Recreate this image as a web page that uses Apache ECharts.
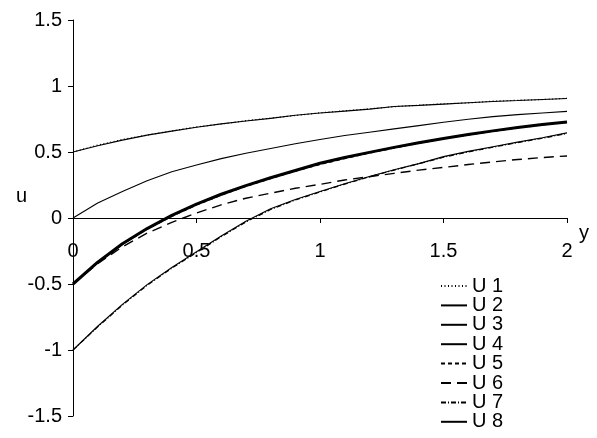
<!DOCTYPE html>
<html>
<head>
<meta charset="utf-8">
<script src="https://cdn.jsdelivr.net/npm/echarts@6/dist/echarts.min.js"></script>
<style>
  html, body { margin: 0; padding: 0; background: #fff; }
  #chart { width: 597px; height: 438px; }
</style>
</head>
<body>
<div id="chart"></div>
<script>
// Sample positions along y
const yPoints = [0, 0.1, 0.2, 0.3, 0.4, 0.5, 0.6, 0.7, 0.8, 0.9, 1.0,
                 1.1, 1.2, 1.3, 1.4, 1.5, 1.6, 1.7, 1.8, 1.9, 2.0];

// Profiles u(y) for each case
const U1 = [0.50, 0.552, 0.595, 0.628, 0.660, 0.690, 0.712, 0.737, 0.757, 0.776, 0.797,
            0.812, 0.827, 0.843, 0.855, 0.865, 0.872, 0.885, 0.892, 0.897, 0.907];
const U2 = [0.50, 0.548, 0.590, 0.628, 0.658, 0.688, 0.713, 0.735, 0.755, 0.778, 0.795,
            0.810, 0.825, 0.845, 0.853, 0.863, 0.873, 0.883, 0.890, 0.898, 0.905];
const U3 = [0.00, 0.113, 0.200, 0.283, 0.350, 0.402, 0.450, 0.490, 0.527, 0.562, 0.595,
            0.625, 0.650, 0.675, 0.700, 0.725, 0.748, 0.768, 0.783, 0.795, 0.808];
const U4 = [-0.50, -0.335, -0.195, -0.080, 0.020, 0.105, 0.180, 0.245, 0.305, 0.360, 0.415,
            0.458, 0.497, 0.535, 0.570, 0.603, 0.632, 0.660, 0.685, 0.708, 0.728];
const U5 = [-0.50, -0.340, -0.200, -0.085, 0.012, 0.098, 0.172, 0.240, 0.298, 0.355, 0.405,
            0.450, 0.492, 0.530, 0.566, 0.600, 0.628, 0.657, 0.682, 0.705, 0.725];
const U6 = [-0.50, -0.346, -0.218, -0.115, -0.033, 0.038, 0.100, 0.150, 0.188, 0.225, 0.255,
            0.288, 0.313, 0.338, 0.363, 0.383, 0.405, 0.425, 0.443, 0.458, 0.470];
const U7 = [-1.00, -0.825, -0.660, -0.510, -0.380, -0.262, -0.142, -0.030, 0.064, 0.136, 0.197,
            0.257, 0.312, 0.363, 0.412, 0.460, 0.500, 0.536, 0.571, 0.604, 0.640];
const U8 = [-1.00, -0.820, -0.654, -0.505, -0.375, -0.256, -0.137, -0.025, 0.070, 0.140, 0.200,
            0.260, 0.315, 0.365, 0.412, 0.465, 0.505, 0.540, 0.575, 0.608, 0.645];

const seriesNames = ['U 1', 'U 2', 'U 3', 'U 4', 'U 5', 'U 6', 'U 7', 'U 8'];
const seriesValues = [U1, U2, U3, U4, U5, U6, U7, U8];

// Axis ranges
const X_MIN = 0, X_MAX = 2, X_STEP = 0.5;
const U_MIN = -1.5, U_MAX = 1.5, U_STEP = 0.5;

// Line look per case
const lineLooks = [
  { width: 1.2, type: [1, 2.5] },
  { width: 1.1, type: 'solid' },
  { width: 1.1, type: 'solid' },
  { width: 3, type: 'solid' },
  { width: 1.2, type: [4, 3] },
  { width: 1.4, type: [10, 6] },
  { width: 1.2, type: [5, 2, 1, 2] },
  { width: 1.1, type: 'solid' }
];

const FONT = 'Liberation Sans, Arial, sans-serif';
const GRID = { left: 73, right: 30, top: 20, bottom: 22 };
const CHART_H = 438;

// The y axis crosses at u = 0: shift the x axis up from the grid bottom to that level
const gridHeight = CHART_H - GRID.top - GRID.bottom;
const zeroOffset = -gridHeight * (0 - U_MIN) / (U_MAX - U_MIN);

const chart = echarts.init(document.getElementById('chart'), null, { renderer: 'canvas' });

const series = seriesNames.map((name, i) => ({
  name: name,
  type: 'line',
  data: yPoints.map((y, k) => [y, seriesValues[i][k]]),
  showSymbol: false,
  symbol: 'none',
  smooth: false,
  silent: true,
  z: i === 1 ? 1 : 2,
  lineStyle: { color: '#000', width: lineLooks[i].width, type: lineLooks[i].type },
  itemStyle: { color: '#000' }
}));

chart.setOption({
  animation: false,
  backgroundColor: '#fff',
  textStyle: { fontFamily: FONT },
  grid: Object.assign({ containLabel: false, outerBoundsMode: 'none' }, GRID),
  xAxis: {
    type: 'value',
    min: X_MIN, max: X_MAX, interval: X_STEP,
    offset: zeroOffset,
    axisLine: { onZero: false, lineStyle: { color: '#000', width: 1 } },
    axisTick: { show: true, length: 5, inside: false, lineStyle: { color: '#000' } },
    axisLabel: { fontSize: 20, color: '#000', fontFamily: FONT, margin: 23,
                 formatter: v => String(v) },
    splitLine: { show: false }
  },
  yAxis: {
    type: 'value',
    min: U_MIN, max: U_MAX, interval: U_STEP,
    axisLine: { show: true, onZero: false, lineStyle: { color: '#000', width: 1 } },
    axisTick: { show: true, length: 5, inside: false, lineStyle: { color: '#000' } },
    axisLabel: { fontSize: 20, color: '#000', fontFamily: FONT, margin: 11,
                 formatter: v => String(v) },
    splitLine: { show: false }
  },
  legend: {
    orient: 'vertical',
    left: 440,
    top: 276,
    itemWidth: 26,
    itemHeight: 10,
    itemGap: -0.6,
    padding: 0,
    itemStyle: { opacity: 0 },
    textStyle: { fontSize: 20, lineHeight: 19, color: '#000', fontFamily: FONT },
    data: seriesNames
  },
  // Axis titles
  graphic: [{
    type: 'text',
    left: 16,
    top: 186,
    style: { text: 'u', fontSize: 20, fill: '#000', font: '20px ' + FONT }
  }, {
    type: 'text',
    left: 579,
    top: 223,
    style: { text: 'y', fontSize: 20, fill: '#000', font: '20px ' + FONT }
  }],
  series: series
});
</script>
</body>
</html>
